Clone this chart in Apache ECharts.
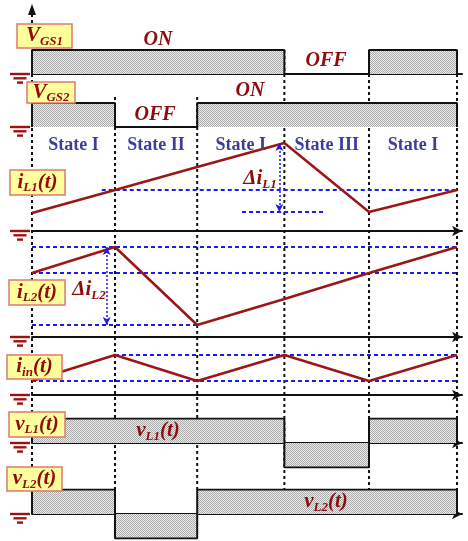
<!DOCTYPE html>
<html>
<head>
<meta charset="utf-8">
<script src="https://cdn.jsdelivr.net/npm/echarts@6/dist/echarts.min.js"></script>
<style>
html, body { margin: 0; padding: 0; background: #fff; }
#chart { width: 468px; height: 541px; }
</style>
</head>
<body>
<div id="chart"></div>
<script>
// Switching instants t0..t5 (normalised time)
const times = [0, 1.0, 1.99, 3.04, 4.06, 5.12];
const stateNames = ['State I', 'State II', 'State I', 'State III', 'State I'];

// Per-interval levels of the gate and inductor-voltage waveforms
const vgs1Levels = [1, 1, 1, 0, 1];
const vgs2Levels = [1, 0, 1, 1, 1];
const vL1Levels = [1, 1, 1, -1, 1];
const vL2Levels = [1, -1, 1, 1, 1];

// Currents at t0..t5
const iL1Values = [0.9, 2.05, 3.2, 4.4, 0.95, 2.05];
const iL2Values = [3.2, 4.5, 0.6, 1.9, 3.2, 4.5];
const iinValues = [0.7, 2.0, 0.7, 2.0, 0.7, 2.0];

// Reference levels and ripple markers
const iL1Avg = 2.05, iL1Min = 0.95, iL1Peak = 4.4;
const iL2Max = 4.5, iL2Mid = 3.2, iL2Min = 0.6;
const iinMax = 2.0, iinMin = 0.7;
const iL1AvgStart = 0.84;
const iL1MinSpan = [2.53, 3.54];
const dIL1At = 2.98;
const dIL2At = 0.9;

const T_MAX = 5.18;
const PLOT_LEFT = 32, PLOT_WIDTH = 430;

const DARK_RED = '#8e0c0c';
const WAVE_RED = '#9b1616';
const BLUE = '#1c1cf0';
const SERIF = '"Liberation Serif", "Times New Roman", serif';

// Row layout: baseline pixel, pixels per unit, value range
const rows = [
  { key: 'vgs1', base: 74,  scale: 24,   min: 0,  max: 1,   line: true,  arrow: false },
  { key: 'vgs2', base: 127, scale: 24,   min: 0,  max: 1,   line: false, arrow: false },
  { key: 'iL1',  base: 231, scale: 20,   min: 0,  max: 4.6, line: true,  arrow: true },
  { key: 'iL2',  base: 337, scale: 20,   min: 0,  max: 4.6, line: true,  arrow: true },
  { key: 'iin',  base: 395, scale: 20,   min: 0,  max: 2.1, line: true,  arrow: true },
  { key: 'vL1',  base: 443, scale: 24.5, min: -1, max: 1,   line: true,  arrow: true },
  { key: 'vL2',  base: 514, scale: 24.5, min: -1, max: 1,   line: true,  arrow: true }
];
const rowIndex = {};
rows.forEach((r, i) => { rowIndex[r.key] = i; });

// stipple fill for the pulse areas
const pat = document.createElement('canvas');
pat.width = 2; pat.height = 2;
const pc = pat.getContext('2d');
pc.fillStyle = '#ececec'; pc.fillRect(0, 0, 2, 2);
pc.fillStyle = '#ababab'; pc.fillRect(0, 0, 1, 1); pc.fillRect(1, 1, 1, 1);

function stepWave(levels) {
  const pts = [[times[0], 0]];
  levels.forEach((lv, i) => { pts.push([times[i], lv]); pts.push([times[i + 1], lv]); });
  pts.push([times[times.length - 1], 0]);
  return pts;
}
function samples(vals) { return times.map((t, i) => [t, vals[i]]); }

const grids = rows.map(r => ({
  left: PLOT_LEFT, width: PLOT_WIDTH,
  top: r.base - r.max * r.scale, height: (r.max - r.min) * r.scale,
  containLabel: false
}));
const xAxes = rows.map((r, i) => ({
  type: 'value', gridIndex: i, min: 0, max: T_MAX,
  axisLine: {
    show: r.line, onZero: true,
    symbol: r.arrow ? ['none', 'arrow'] : ['none', 'none'], symbolSize: [8, 10],
    lineStyle: { color: '#111', width: 2 }
  },
  axisTick: { show: false }, axisLabel: { show: false }, splitLine: { show: false }
}));
const yAxes = rows.map((r, i) => ({
  type: 'value', gridIndex: i, min: r.min, max: r.max, show: false,
  splitLine: { show: false }
}));

function pulseSeries(key, levels) {
  const gi = rowIndex[key];
  return {
    type: 'line', xAxisIndex: gi, yAxisIndex: gi, data: stepWave(levels),
    symbol: 'none', silent: true, z: 3,
    lineStyle: { color: '#111', width: 2 },
    areaStyle: { color: { image: pat, repeat: 'repeat' }, opacity: 1 }
  };
}
function waveSeries(key, vals) {
  const gi = rowIndex[key];
  return {
    type: 'line', xAxisIndex: gi, yAxisIndex: gi, data: samples(vals),
    symbol: 'none', silent: true, z: 4,
    lineStyle: { color: WAVE_RED, width: 2.5 }
  };
}
function refLine(key, t0, t1, v, extra) {
  const gi = rowIndex[key];
  return Object.assign({
    type: 'line', xAxisIndex: gi, yAxisIndex: gi, data: [[t0, v], [t1, v]],
    symbol: 'none', silent: true, z: 3,
    lineStyle: { color: BLUE, width: 2, type: [4, 3] }
  }, extra || {});
}
function rippleArrow(t, hi, lo) {
  return {
    silent: true, symbol: ['arrow', 'arrow'], symbolSize: [6, 8],
    label: { show: false },
    lineStyle: { color: BLUE, width: 1.5, type: [2, 2] },
    data: [[{ coord: [t, hi] }, { coord: [t, lo] }]]
  };
}

const series = [
  pulseSeries('vgs1', vgs1Levels),
  pulseSeries('vgs2', vgs2Levels),
  pulseSeries('vL1', vL1Levels),
  pulseSeries('vL2', vL2Levels),
  refLine('iL1', iL1AvgStart, times[5], iL1Avg),
  refLine('iL1', iL1MinSpan[0], iL1MinSpan[1], iL1Min, { markLine: rippleArrow(dIL1At, iL1Peak, iL1Min) }),
  refLine('iL2', times[0], times[5], iL2Max),
  refLine('iL2', times[0], times[5], iL2Mid),
  refLine('iL2', times[0], times[2], iL2Min, { markLine: rippleArrow(dIL2At, iL2Max, iL2Min) }),
  refLine('iin', times[1], times[5], iinMax),
  refLine('iin', times[0], times[5], iinMin),
  waveSeries('iL1', iL1Values),
  waveSeries('iL2', iL2Values),
  waveSeries('iin', iinValues)
];

const chart = echarts.init(document.getElementById('chart'), null, { renderer: 'canvas' });
chart.setOption({
  animation: false,
  backgroundColor: '#ffffff',
  grid: grids, xAxis: xAxes, yAxis: yAxes, series: series
});

// ---- annotations ----
const px = (key, t, v) => chart.convertToPixel({ gridIndex: rowIndex[key] }, [t, v]);
const g = [];

function vDash(t, fromKey, fromV, toKey, toV) {
  const a = px(fromKey, t, fromV), b = px(toKey, t, toV);
  g.push({ type: 'line', z: 1, silent: true,
    shape: { x1: a[0], y1: a[1], x2: b[0], y2: b[1] },
    style: { stroke: '#111', lineWidth: 2, lineDash: [3, 3] } });
}
// vertical axis with arrow at the origin
(function () {
  const b = px('vL2', times[0], 0);
  g.push({ type: 'line', z: 1, silent: true,
    shape: { x1: b[0], y1: 14, x2: b[0], y2: b[1] },
    style: { stroke: '#111', lineWidth: 2, lineDash: [3, 3] } });
  g.push({ type: 'polygon', z: 1, silent: true,
    shape: { points: [[b[0], 4], [b[0] - 4, 15], [b[0] + 4, 15]] },
    style: { fill: '#111' } });
})();
vDash(times[1], 'vgs2', 1.25, 'vL2', 1);
vDash(times[2], 'vgs2', 1.25, 'vL2', 1);
vDash(times[3], 'vgs1', 1, 'vL2', 1);
vDash(times[4], 'vgs1', 1, 'vL2', 1);
vDash(times[5], 'vgs1', 0, 'vL2', 1);

// ground symbols
rows.forEach(r => {
  const y = px(r.key, 0, 0)[1];
  [[10, 30, 0], [13.5, 26.5, 4.3], [17, 23, 8.6]].forEach(s => {
    g.push({ type: 'line', z: 5, silent: true,
      shape: { x1: s[0], y1: y + s[2], x2: s[1], y2: y + s[2] },
      style: { stroke: '#a01212', lineWidth: 2.4 } });
  });
});

// state labels
stateNames.forEach((name, i) => {
  const x = (px('vgs1', times[i], 0)[0] + px('vgs1', times[i + 1], 0)[0]) / 2;
  g.push({ type: 'text', z: 6, silent: true, x: x, y: 145,
    style: { text: name, fill: '#3d3d9e', font: 'bold 18px ' + SERIF,
      align: 'center', verticalAlign: 'middle' } });
});

const richStyles = function (main, sub, shift) {
  return {
    m: { fontSize: main, fontWeight: 'bold', fontStyle: 'italic', fontFamily: SERIF, fill: DARK_RED },
    s: { fontSize: sub, fontWeight: 'bold', fontStyle: 'italic', fontFamily: SERIF, fill: DARK_RED,
         padding: [shift, 0, 0, 0] }
  };
};
function plainText(x, y, text, size) {
  g.push({ type: 'text', z: 6, silent: true, x: x, y: y,
    style: { text: text, fill: DARK_RED, font: 'italic bold ' + size + 'px ' + SERIF,
      align: 'center', verticalAlign: 'middle' } });
}
function richText(x, y, text, main, sub, shift) {
  g.push({ type: 'text', z: 6, silent: true, x: x, y: y,
    style: { text: text, rich: richStyles(main, sub, shift),
      align: 'center', verticalAlign: 'middle' } });
}
function boxLabel(x, y, w, h, text) {
  g.push({ type: 'rect', z: 7, silent: true,
    shape: { x: x, y: y, width: w, height: h },
    style: { fill: '#ffff9c', stroke: '#e0786e', lineWidth: 1.5 } });
  g.push({ type: 'text', z: 8, silent: true, x: x + w / 2, y: y + h / 2,
    style: { text: text, rich: richStyles(21, 13, 11),
      align: 'center', verticalAlign: 'middle' } });
}

plainText(158, 40, 'ON', 20);
plainText(326, 61, 'OFF', 20);
plainText(250, 91, 'ON', 20);
plainText(155, 115, 'OFF', 20);

boxLabel(17, 24, 55, 24, '{m|V}{s|GS1}');
boxLabel(27, 82, 48, 21, '{m|V}{s|GS2}');
boxLabel(10, 170, 55, 25, '{m|i}{s|L1}{m|(t)}');
boxLabel(9, 280, 56, 25, '{m|i}{s|L2}{m|(t)}');
boxLabel(7, 355, 55, 24, '{m|i}{s|in}{m|(t)}');
boxLabel(9, 412, 56, 25, '{m|v}{s|L1}{m|(t)}');
boxLabel(7, 467, 55, 24, '{m|v}{s|L2}{m|(t)}');

richText(260, 179, '{m|Δi}{s|L1}', 21, 13, 11);
richText(89, 290, '{m|Δi}{s|L2}', 21, 13, 11);
richText(158, 431, '{m|v}{s|L1}{m|(t)}', 21, 13, 11);
richText(326, 502, '{m|v}{s|L2}{m|(t)}', 21, 13, 11);

chart.setOption({ graphic: { elements: g } });
</script>
</body>
</html>
